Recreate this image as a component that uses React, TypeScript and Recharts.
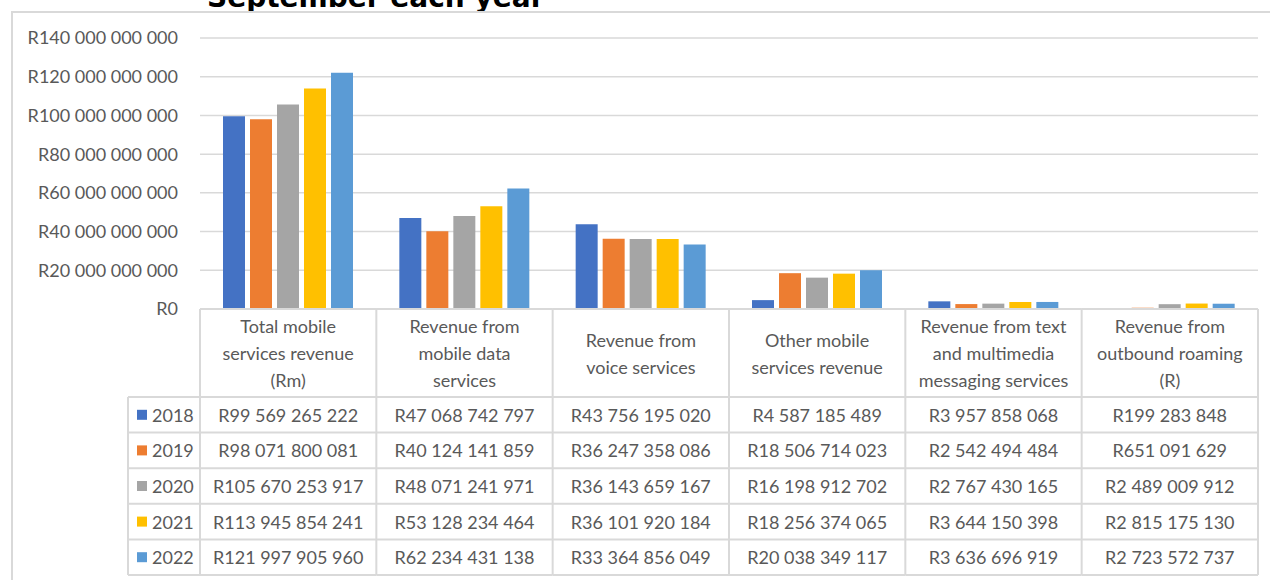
import { BarChart, Bar, XAxis, YAxis, CartesianGrid } from 'recharts';

const categories = [
  'Total mobile\nservices revenue\n(Rm)',
  'Revenue from\nmobile data\nservices',
  'Revenue from\nvoice services',
  'Other mobile\nservices revenue',
  'Revenue from text\nand multimedia\nmessaging services',
  'Revenue from\noutbound roaming\n(R)',
];

const years = ['2018', '2019', '2020', '2021', '2022'];
const colors = ['#4472C4', '#ED7D31', '#A5A5A5', '#FFC000', '#5B9BD5'];

const rev2018 = [99569265222, 47068742797, 43756195020, 4587185489, 3957858068, 199283848];
const rev2019 = [98071800081, 40124141859, 36247358086, 18506714023, 2542494484, 651091629];
const rev2020 = [105670253917, 48071241971, 36143659167, 16198912702, 2767430165, 2489009912];
const rev2021 = [113945854241, 53128234464, 36101920184, 18256374065, 3644150398, 2815175130];
const rev2022 = [121997905960, 62234431138, 33364856049, 20038349117, 3636696919, 2723572737];

const yTicks = [0, 20e9, 40e9, 60e9, 80e9, 100e9, 120e9, 140e9];

const series = [rev2018, rev2019, rev2020, rev2021, rev2022];

const data = categories.map((name, i) => {
  const row: any = { name };
  years.forEach((y, s) => {
    row[y] = series[s][i];
  });
  return row;
});

const W = 1270;
const H = 600;
const MARGIN = { top: 38, right: 12, left: 0, bottom: 0 };
const Y_WIDTH = 200;
const BAND = (W - Y_WIDTH - MARGIN.right) / categories.length;
const HEADER_H = 88;
const ROW_H = 35.6;
const LINE = '#d9d9d9';
const TEXT = '#595959';
const FONT = 'Lato, sans-serif';

function rand(v: number) {
  return 'R' + Math.round(v).toString().replace(/\B(?=(\d{3})+(?!\d))/g, ' ');
}

function TableColumn(props: any) {
  const { x, y, payload } = props;
  const i = payload.index;
  const left = x - BAND / 2;
  const right = x + BAND / 2;
  const lines = String(payload.value).split('\n');
  const headMid = y + HEADER_H / 2;
  const rowsTop = y + HEADER_H;
  const bottom = rowsTop + ROW_H * years.length;
  return (
    <g>
      {lines.map((l, k) => (
        <text
          key={k}
          x={x}
          y={headMid + (k - (lines.length - 1) / 2) * 27}
          textAnchor='middle'
          dominantBaseline='central'
          fill={TEXT}
          fontSize={18}
          fontFamily={FONT}
        >
          {l}
        </text>
      ))}
      {years.map((yr, s) => (
        <text
          key={yr}
          x={x}
          y={rowsTop + ROW_H * (s + 0.5)}
          textAnchor='middle'
          dominantBaseline='central'
          fill={TEXT}
          fontSize={18}
          fontFamily={FONT}
        >
          {rand(series[s][i])}
        </text>
      ))}
      <line x1={right} x2={right} y1={y} y2={bottom} stroke={LINE} strokeWidth={2} />
      <line x1={left} x2={right} y1={y} y2={y} stroke={LINE} strokeWidth={2} />
      {years.map((yr, s) => (
        <line key={yr} x1={left} x2={right} y1={rowsTop + ROW_H * s} y2={rowsTop + ROW_H * s} stroke={LINE} strokeWidth={2} />
      ))}
      <line x1={left} x2={right} y1={bottom} y2={bottom} stroke={LINE} strokeWidth={2} />
      {i === 0 && (
        <g>
          <line x1={left} x2={left} y1={y} y2={bottom} stroke={LINE} strokeWidth={2} />
          <line x1={left - 72} x2={left - 72} y1={rowsTop} y2={bottom} stroke={LINE} strokeWidth={2} />
          {years.map((yr, s) => (
            <g key={yr}>
              <line x1={left - 72} x2={left} y1={rowsTop + ROW_H * s} y2={rowsTop + ROW_H * s} stroke={LINE} strokeWidth={2} />
              <rect x={left - 63} y={rowsTop + ROW_H * (s + 0.5) - 5} width={10} height={10} fill={colors[s]} />
              <text
                x={left - 48}
                y={rowsTop + ROW_H * (s + 0.5)}
                dominantBaseline='central'
                fill={TEXT}
                fontSize={18}
                fontFamily={FONT}
              >
                {yr}
              </text>
            </g>
          ))}
          <line x1={left - 72} x2={left} y1={bottom} y2={bottom} stroke={LINE} strokeWidth={2} />
        </g>
      )}
    </g>
  );
}

export default function App() {
  return (
    <div style={{ position: 'absolute', left: 0, top: 0, width: W, height: 580, overflow: 'hidden', background: '#fff' }}>
      <svg width={W} height={20} style={{ position: 'absolute', left: 0, top: 0 }}>
        <text x={207} y={7} fontSize={28} fontWeight='bold' fontFamily='DejaVu Sans, sans-serif' fill='#000'>
          September each year
        </text>
      </svg>
      <div
        style={{
          position: 'absolute',
          left: 11,
          top: 11,
          width: W,
          height: H,
          borderLeft: `2px solid ${LINE}`,
          borderTop: `2px solid ${LINE}`,
          background: '#fff',
        }}
      />
      <div style={{ position: 'absolute', left: 0, top: 0 }}>
        <BarChart width={W} height={H} data={data} margin={MARGIN} barSize={22} barGap={5}>
          <CartesianGrid vertical={false} stroke={LINE} strokeWidth={1.5} />
          <YAxis
            width={Y_WIDTH}
            domain={[0, 140e9]}
            ticks={yTicks}
            interval={0}
            axisLine={false}
            tickLine={false}
            tickSize={0}
            tickMargin={22}
            tickFormatter={(v: number) => rand(v)}
            tick={{ fill: TEXT, fontSize: 18, fontFamily: FONT }}
          />
          <XAxis
            dataKey='name'
            height={H - MARGIN.top - 271}
            axisLine={false}
            tickLine={false}
            tickSize={0}
            tickMargin={0}
            interval={0}
            tick={<TableColumn />}
          />
          {years.map((y, s) => (
            <Bar key={y} dataKey={y} fill={colors[s]} isAnimationActive={false} />
          ))}
        </BarChart>
      </div>
    </div>
  );
}
